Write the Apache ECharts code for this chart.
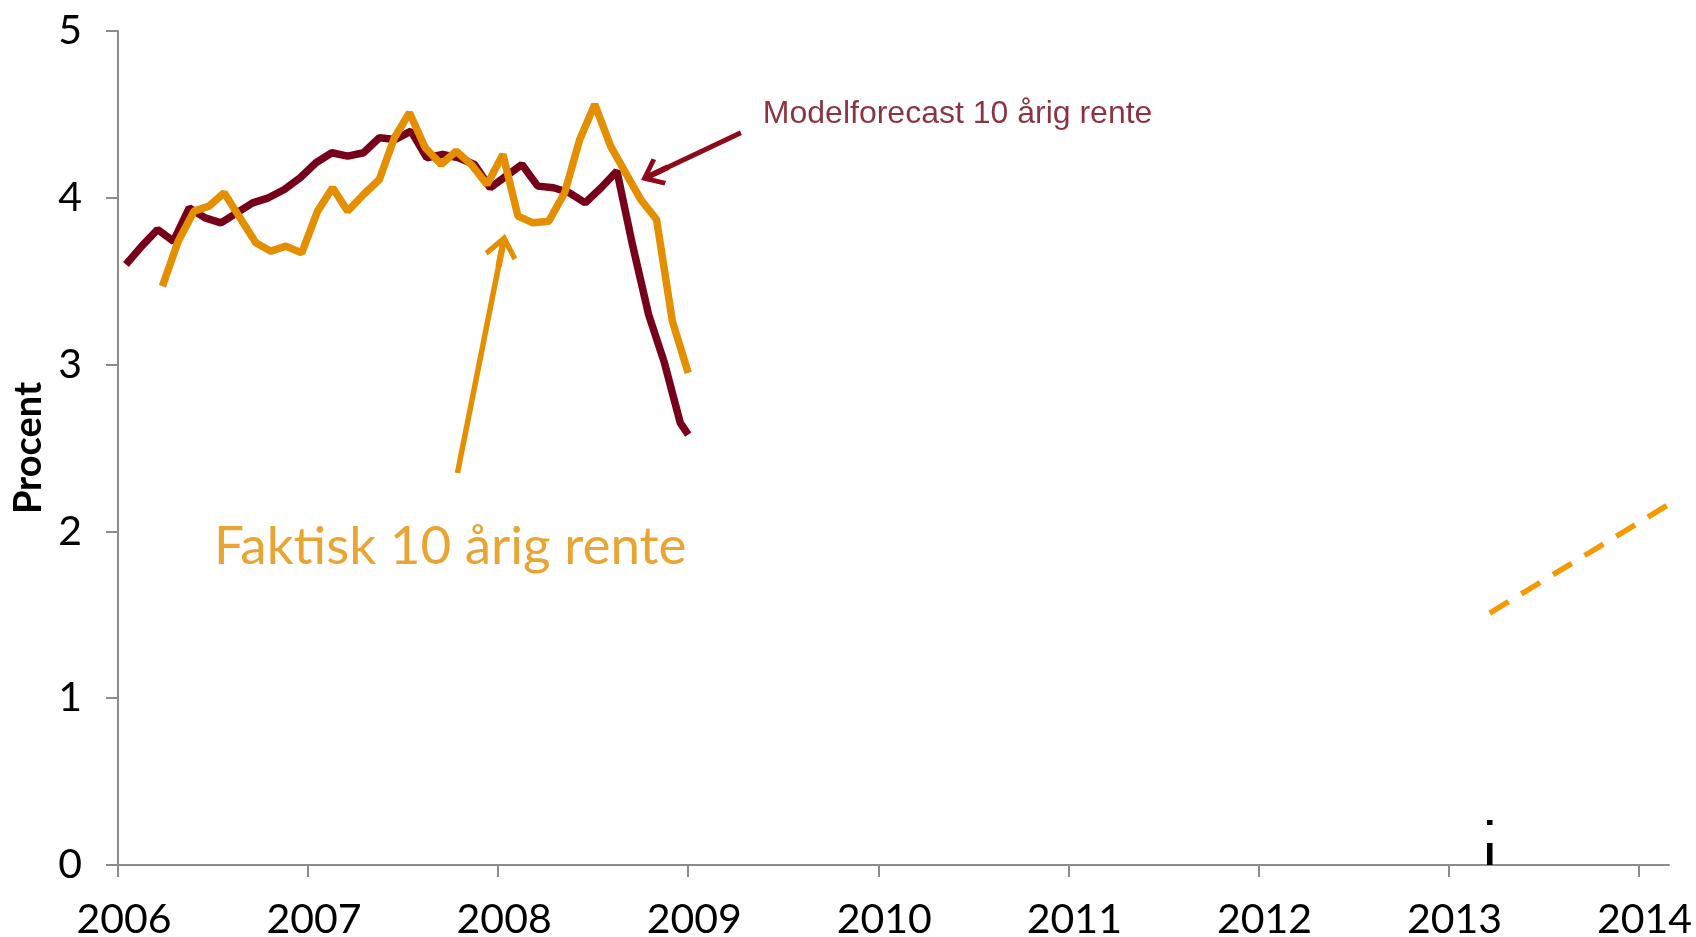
<!DOCTYPE html>
<html style="height: 100%">

<head>
    <meta charset="utf-8">
    <script src="https://cdn.jsdelivr.net/npm/echarts@6/dist/echarts.min.js"></script>
</head>

<body style="height: 100%; margin: 0; background: #fff">
    <div id="container" style="width: 1696px; height: 937px"></div>

    <script type="text/javascript">
        // aar paa x-aksen
        var aarTicks = [2006, 2007, 2008, 2009, 2010, 2011, 2012, 2013, 2014];

        // modelforecast, maaneder efter jan 2006
        var modelMaaned = [0.5, 1.5, 2.5, 3.5, 4.5, 5.5, 6.5, 7.5, 8.5, 9.5, 10.5, 11.5,
            12.5, 13.5, 14.5, 15.5, 16.5, 17.5, 18.5, 19.5, 20.5, 21.5, 22.5, 23.5,
            24.5, 25.5, 26.5, 27.5, 28.5, 29.5, 30.5, 31.5, 32.5, 33.5, 34.5, 35.5, 36];
        var modelRente = [3.60, 3.71, 3.81, 3.74, 3.94, 3.88, 3.85, 3.91, 3.97, 4.00, 4.05, 4.12,
            4.21, 4.27, 4.25, 4.27, 4.36, 4.35, 4.40, 4.24, 4.26, 4.24, 4.20, 4.06,
            4.13, 4.20, 4.07, 4.06, 4.03, 3.97, 4.06, 4.16, 3.71, 3.30, 3.01, 2.65, 2.58];

        // faktisk 10 aarig rente
        var faktiskMaaned = [2.8, 3.8, 4.8, 5.75, 6.7, 7.7, 8.7, 9.65, 10.6, 11.6, 12.6, 13.55,
            14.5, 15.5, 16.5, 17.45, 18.4, 19.4, 20.4, 21.35, 22.3, 23.3, 24.3, 25.25,
            26.2, 27.2, 28.2, 29.15, 30.1, 31.1, 32.1, 33.0, 34.0, 35.0, 36.0];
        var faktiskRente = [3.47, 3.74, 3.92, 3.95, 4.03, 3.88, 3.73, 3.68, 3.71, 3.67, 3.92, 4.06,
            3.92, 4.02, 4.11, 4.36, 4.51, 4.30, 4.20, 4.28, 4.20, 4.08, 4.26, 3.89,
            3.85, 3.86, 4.03, 4.35, 4.56, 4.31, 4.14, 3.99, 3.87, 3.26, 2.95];

        // stiplet prognose (aar, procent)
        var prognoseAar = [2013.217, 2014.30];
        var prognoseRente = [1.51, 2.26];

        // lille markering ved prognosestart
        var markeringAar = [2013.217, 2013.217];
        var markeringVaerdi = [0, 0.27];

        // pile og tekster (aar, procent)
        var faktiskPil = [[2007.786, 2.35], [2008.019, 3.686]];
        var modelPil = [[2009.277, 4.39], [2008.823, 4.145]];
        var faktiskTekst = [2006.503, 1.91];
        var modelTekst = [2009.39, 4.50];

        function tilPunkter(aar, maaneder, vaerdier) {
            return vaerdier.map(function (v, i) {
                return [aar + maaneder[i] / 12, v];
            });
        }
        function parPunkter(xs, ys) {
            return ys.map(function (v, i) { return [xs[i], v]; });
        }

        var roed = '#76001a';
        var orange = '#e38f00';
        var pilSymbol = 'path://M0,0 L10.5,12.5 L8.2,14.8 L2,7.6 L2,20 L-2,20 L-2,7.6 L-8.2,14.8 L-10.5,12.5 Z';

        var dom = document.getElementById("container");
        var myChart = echarts.init(dom, null, { renderer: 'canvas' });
        var option = {
            animation: false,
            grid: {
                left: 118,
                right: 27,
                top: 31,
                bottom: 72,
                containLabel: false,
                outerBoundsMode: 'none'
            },
            xAxis: {
                type: 'value',
                min: 2006,
                max: 2014.16,
                interval: 1,
                splitLine: { show: false },
                axisLine: { lineStyle: { color: '#8c8c8c', width: 2 } },
                axisTick: {
                    customValues: aarTicks,
                    length: 12,
                    lineStyle: { color: '#8c8c8c', width: 2 }
                },
                axisLabel: {
                    customValues: aarTicks,
                    margin: 34,
                    padding: [0, 0, 0, 12],
                    color: '#000',
                    fontFamily: 'Lato',
                    fontSize: 41,
                    formatter: function (v) { return String(Math.round(v)); }
                }
            },
            yAxis: {
                type: 'value',
                min: 0,
                max: 5,
                interval: 1,
                name: 'Procent',
                nameLocation: 'middle',
                nameRotate: 90,
                nameGap: 63,
                nameTextStyle: {
                    color: '#000',
                    fontFamily: 'Lato',
                    fontWeight: 'bold',
                    fontSize: 38
                },
                splitLine: { show: false },
                axisLine: { show: true, lineStyle: { color: '#8c8c8c', width: 2 } },
                axisTick: { show: true, length: 12, lineStyle: { color: '#8c8c8c', width: 2 } },
                axisLabel: {
                    margin: 36,
                    color: '#000',
                    fontFamily: 'Lato',
                    fontSize: 41
                }
            },
            series: [
                {
                    name: 'Modelforecast 10 årig rente',
                    type: 'line',
                    data: tilPunkter(2006, modelMaaned, modelRente),
                    showSymbol: false,
                    symbol: 'none',
                    lineStyle: { color: roed, width: 7.5 },
                    markLine: {
                        silent: true,
                        symbol: ['none', pilSymbol],
                        symbolSize: [30, 30],
                        label: { show: false },
                        lineStyle: { color: '#8c0a1a', width: 5, type: 'solid' },
                        data: [[{ coord: modelPil[0] }, { coord: modelPil[1] }]]
                    }
                },
                {
                    name: 'Faktisk 10 årig rente',
                    type: 'line',
                    data: tilPunkter(2006, faktiskMaaned, faktiskRente),
                    showSymbol: false,
                    symbol: 'none',
                    lineStyle: { color: orange, width: 7.5 },
                    markLine: {
                        silent: true,
                        symbol: ['none', pilSymbol],
                        symbolSize: [33, 33],
                        label: { show: false },
                        lineStyle: { color: orange, width: 5.5, type: 'solid' },
                        data: [[{ coord: faktiskPil[0] }, { coord: faktiskPil[1] }]]
                    }
                },
                {
                    name: 'Prognose',
                    type: 'line',
                    clip: false,
                    data: parPunkter(prognoseAar, prognoseRente),
                    showSymbol: false,
                    symbol: 'none',
                    lineStyle: { color: '#f59a00', width: 5.5, type: [22, 15] }
                },
                {
                    name: 'Markering',
                    type: 'line',
                    data: parPunkter(markeringAar, markeringVaerdi),
                    showSymbol: false,
                    symbol: 'none',
                    lineStyle: { color: '#000', width: 5.5, type: [22, 18] }
                },
                {
                    name: 'Tekster',
                    type: 'scatter',
                    silent: true,
                    symbolSize: 1,
                    itemStyle: { color: 'rgba(0,0,0,0)' },
                    data: [
                        {
                            value: faktiskTekst,
                            label: {
                                show: true,
                                position: 'right',
                                distance: 0,
                                formatter: 'Faktisk 10 årig rente',
                                color: orange,
                                fontFamily: 'Lato',
                                fontSize: 53
                            }
                        },
                        {
                            value: modelTekst,
                            label: {
                                show: true,
                                position: 'right',
                                distance: 0,
                                formatter: 'Modelforecast 10 årig rente',
                                color: '#6e0012',
                                fontFamily: 'Liberation Sans',
                                fontSize: 32
                            }
                        }
                    ]
                }
            ]
        };
        if (option && typeof option === "object") {
            myChart.setOption(option, true);
        }
    </script>
</body>

</html>
